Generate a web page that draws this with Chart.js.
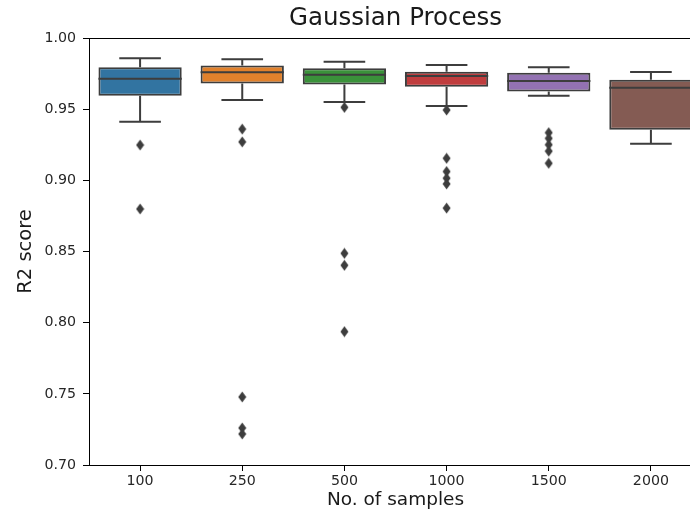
<!DOCTYPE html>
<html>
<head>
<meta charset="utf-8">
<script src="https://cdn.jsdelivr.net/npm/chart.js@4.4.1/dist/chart.umd.min.js"></script>
<style>
  html, body { margin: 0; padding: 0; background: #ffffff; overflow: hidden; }
  #wrap { width: 690px; height: 517px; overflow: hidden; }
  canvas { display: block; }
</style>
</head>
<body>
<div id="wrap"><canvas id="c" width="720" height="517"></canvas></div>
<script>
// ---- data ----
const categories = ['100', '250', '500', '1000', '1500', '2000'];
const whiskerLow  = [0.9412, 0.9564, 0.9550, 0.9522, 0.9595, 0.9257];
const q1          = [0.9595, 0.9680, 0.9674, 0.9658, 0.9625, 0.9356];
const medians     = [0.9714, 0.9760, 0.9742, 0.9733, 0.9698, 0.9651];
const q3          = [0.9794, 0.9806, 0.9787, 0.9763, 0.9756, 0.9707];
const whiskerHigh = [0.9857, 0.9850, 0.9834, 0.9810, 0.9794, 0.9761];
const outliers100  = [0.9248, 0.8799];
const outliers250  = [0.9360, 0.9270, 0.7478, 0.7260, 0.7218];
const outliers500  = [0.9513, 0.8487, 0.8403, 0.7937];
const outliers1000 = [0.9494, 0.9155, 0.9062, 0.9015, 0.8975, 0.8805];
const outliers1500 = [0.9335, 0.9295, 0.9250, 0.9205, 0.9120];
const outliers2000 = [];
const yTickLabels = ['0.70', '0.75', '0.80', '0.85', '0.90', '0.95', '1.00'];
const boxColors = ['#3274a1', '#e1812c', '#3a923a', '#c03d3e', '#9372b2', '#845b53'];

const outlierLists = [outliers100, outliers250, outliers500, outliers1000, outliers1500, outliers2000];
const outlierPoints = [];
outlierLists.forEach((list, i) => list.forEach(v => outlierPoints.push({ x: categories[i], y: v })));

const LINE = '#3d3d3d';
const FONT = 'DejaVu Sans';

// thin diamond marker (matplotlib 'd')
const marker = document.createElement('canvas');
marker.width = 9; marker.height = 12;
(function () {
  const m = marker.getContext('2d');
  m.fillStyle = LINE;
  m.beginPath();
  m.moveTo(4.5, 0.5); m.lineTo(8.5, 6); m.lineTo(4.5, 11.5); m.lineTo(0.5, 6);
  m.closePath(); m.fill();
})();

const boxPlugin = {
  id: 'boxParts',
  afterDatasetsDraw(chart) {
    const meta = chart.getDatasetMeta(1);
    const ys = chart.scales.y;
    const ctx = chart.ctx;
    ctx.save();
    ctx.strokeStyle = LINE;
    ctx.lineWidth = 2;
    ctx.lineCap = 'butt';
    meta.data.forEach((bar, i) => {
      const x = bar.x;
      const hw = bar.width / 2;
      const cap = hw / 2;
      const yLo = ys.getPixelForValue(whiskerLow[i]);
      const yQ1 = ys.getPixelForValue(q1[i]);
      const yMed = ys.getPixelForValue(medians[i]);
      const yQ3 = ys.getPixelForValue(q3[i]);
      const yHi = ys.getPixelForValue(whiskerHigh[i]);
      ctx.beginPath();
      ctx.moveTo(x, yQ1); ctx.lineTo(x, yLo);
      ctx.moveTo(x - cap, yLo); ctx.lineTo(x + cap, yLo);
      ctx.moveTo(x, yQ3); ctx.lineTo(x, yHi);
      ctx.moveTo(x - cap, yHi); ctx.lineTo(x + cap, yHi);
      ctx.moveTo(x - hw, yMed); ctx.lineTo(x + hw, yMed);
      ctx.stroke();
    });
    ctx.restore();
  }
};

new Chart(document.getElementById('c'), {
  type: 'bar',
  data: {
    labels: categories,
    datasets: [
      {
        type: 'scatter',
        label: 'outliers',
        data: outlierPoints,
        pointStyle: marker,
        pointRadius: 5,
        backgroundColor: LINE,
        borderColor: LINE,
        order: 1
      },
      {
        type: 'bar',
        label: 'IQR',
        data: categories.map((c, i) => [q1[i], q3[i]]),
        backgroundColor: boxColors,
        borderColor: LINE,
        borderWidth: 2,
        borderSkipped: false,
        barPercentage: 0.815,
        categoryPercentage: 1.0,
        order: 2
      }
    ]
  },
  options: {
    responsive: false,
    animation: false,
    devicePixelRatio: 1,
    layout: { padding: { left: 0, right: 18, top: 0, bottom: 0 } },
    plugins: {
      legend: { display: false },
      tooltip: { enabled: false },
      title: { display: false }
    },
    scales: {
      x: {
        type: 'category',
        position: 'bottom',
        offset: true,
        grid: { offset: false, drawOnChartArea: false, drawTicks: true, tickLength: 6, color: '#000', lineWidth: 1 },
        border: { display: true, color: '#000', width: 1 },
        ticks: { color: '#262626', padding: 2, font: { family: FONT, size: 14.2 } },
        title: { display: true, text: 'No. of samples', color: '#1a1a1a',
                 font: { family: FONT, size: 18.5 }, padding: { top: 0, bottom: 6 } },
        afterFit(s) { s.height = 52; }
      },
      x2: {
        type: 'category',
        position: 'top',
        offset: true,
        grid: { drawOnChartArea: false, drawTicks: false },
        border: { display: true, color: '#000', width: 1 },
        ticks: { display: false },
        title: { display: true, text: 'Gaussian Process', color: '#1a1a1a',
                 font: { family: FONT, size: 24.5 }, padding: { top: 4, bottom: 0 } },
        afterFit(s) { s.height = 38; }
      },
      y: {
        type: 'linear',
        position: 'left',
        min: 0.70,
        max: 1.00,
        grid: { drawOnChartArea: false, drawTicks: true, tickLength: 6, color: '#000', lineWidth: 1 },
        border: { display: true, color: '#000', width: 1 },
        ticks: {
          stepSize: 0.05,
          color: '#262626',
          padding: 7,
          font: { family: FONT, size: 14.2 },
          callback: (v) => yTickLabels.find(t => Math.abs(parseFloat(t) - v) < 1e-6) || ''
        },
        title: { display: true, text: 'R2 score', color: '#1a1a1a',
                 font: { family: FONT, size: 19.5 }, padding: { top: 14, bottom: 0 } },
        afterFit(s) { s.width = 89; }
      }
    }
  },
  plugins: [boxPlugin]
});
</script>
</body>
</html>
